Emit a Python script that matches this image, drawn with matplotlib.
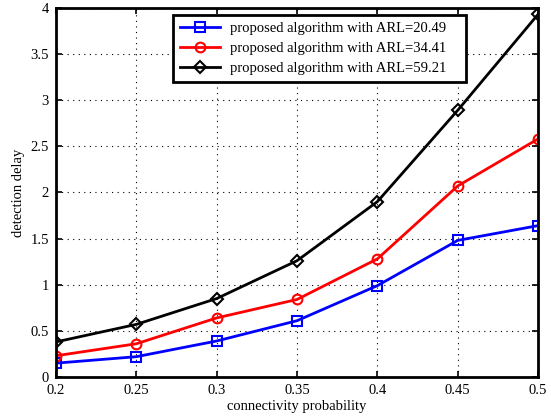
import matplotlib.pyplot as plt

plt.rcParams['font.family'] = ['Liberation Serif', 'DejaVu Serif']

p = [0.2, 0.25, 0.3, 0.35, 0.4, 0.45, 0.5]
delay_2049 = [0.15, 0.22, 0.39, 0.61, 0.99, 1.48, 1.64]
delay_3441 = [0.23, 0.36, 0.64, 0.84, 1.28, 2.07, 2.58]
delay_5921 = [0.38, 0.57, 0.85, 1.26, 1.90, 2.89, 3.93]

fig = plt.figure(figsize=(5.51, 4.2), dpi=100)
ax = fig.add_axes([0.1016, 0.1024, 0.875, 0.879])

ax.plot(p, delay_2049, color='blue', lw=2, marker='s', ms=7, mfc='none', mew=1.5,
        label='proposed algorithm with ARL=20.49')
ax.plot(p, delay_3441, color='red', lw=2, marker='o', ms=7, mfc='none', mew=1.5,
        label='proposed algorithm with ARL=34.41')
ax.plot(p, delay_5921, color='black', lw=2, marker='D', ms=6.5, mfc='none', mew=1.5,
        label='proposed algorithm with ARL=59.21')

ax.set_xlim(0.2, 0.5)
ax.set_ylim(0, 4)
ax.set_xticks(p)
ax.set_xticklabels(['0.2', '0.25', '0.3', '0.35', '0.4', '0.45', '0.5'])
ax.set_yticks([0, 0.5, 1, 1.5, 2, 2.5, 3, 3.5, 4])
ax.set_yticklabels(['0', '0.5', '1', '1.5', '2', '2.5', '3', '3.5', '4'])
ax.tick_params(direction='in', top=True, right=True, length=4, width=1.2,
               labelsize=10.5, pad=5)
ax.grid(True, color='black', linestyle=(0, (1, 4)), linewidth=0.8)
for s in ax.spines.values():
    s.set_linewidth(2)

ax.set_xlabel('connectivity probability', fontsize=10.5, labelpad=2)
ax.set_ylabel('detection delay', fontsize=10.5, labelpad=4)

# legend box stretched to a fixed width, text kept left
leg = ax.legend(loc='upper left', bbox_to_anchor=(0.2427, 0.5, 0.608, 0.481),
                mode='expand', fontsize=10.5,
                fancybox=False, framealpha=1, edgecolor='black',
                handlelength=2.7, borderpad=0.5, labelspacing=0.45,
                handletextpad=0.7, borderaxespad=0)
leg.get_frame().set_linewidth(2)

fig.savefig('out.png', dpi=100)
